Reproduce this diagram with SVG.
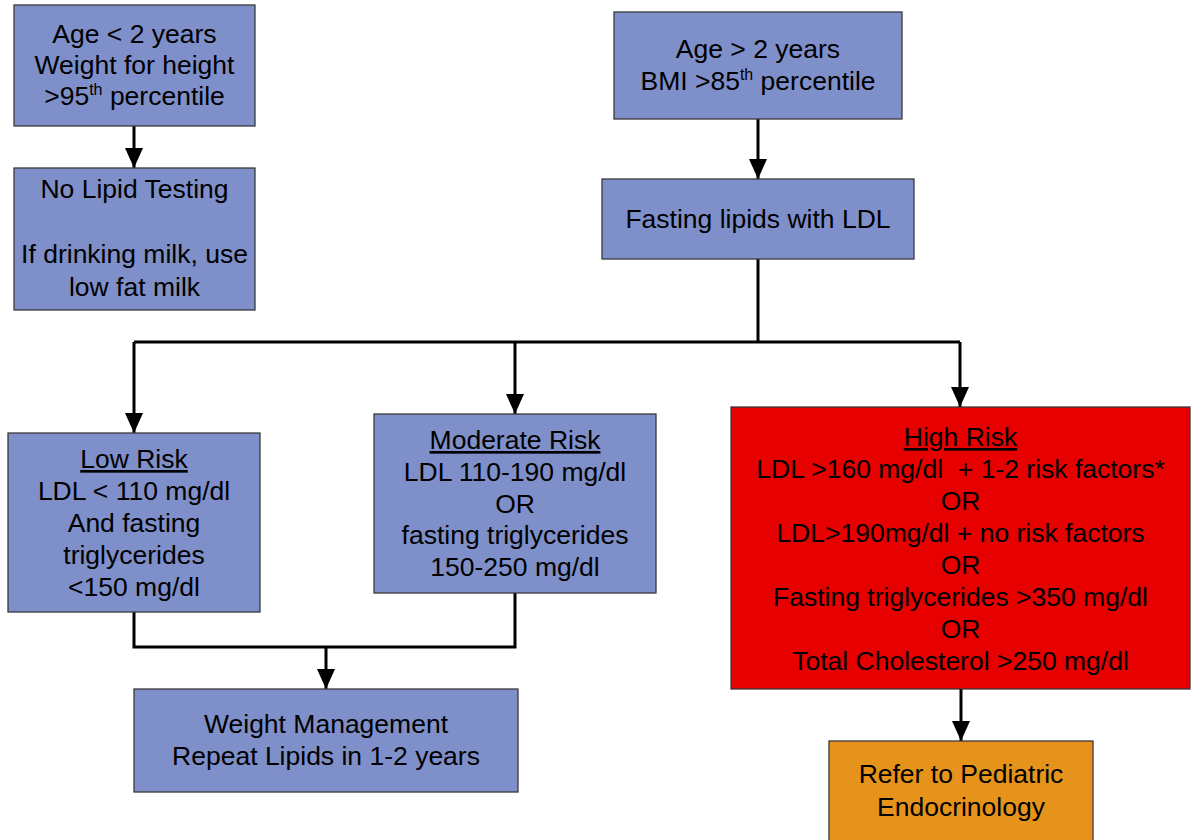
<svg xmlns="http://www.w3.org/2000/svg" width="1193" height="840" viewBox="0 0 1193 840">
<defs>
<marker id="ah" markerUnits="userSpaceOnUse" markerWidth="20" markerHeight="18" refX="20" refY="9" orient="auto">
<path d="M0,0 L20,9 L0,18 z" fill="#000"/>
</marker>
<style>
.blue{fill:#7F8FC9;stroke:#3a3a3a;stroke-width:1.3}
.red{fill:#E60000;stroke:#3a3a3a;stroke-width:1.3}
.orange{fill:#E6931B;stroke:#3a3a3a;stroke-width:1.3}
.t{font-family:"Liberation Sans",Arial,sans-serif;font-size:26.5px;fill:#000;text-anchor:middle}
.sup{font-size:16px}
.u{text-decoration:underline}
.c{fill:none;stroke:#000;stroke-width:3}
</style>
</defs>
<rect width="1193" height="840" fill="#fff"/>
<g id="connectors">
<path class="c" d="M134,126 V168" marker-end="url(#ah)"/>
<path class="c" d="M758,119 V179" marker-end="url(#ah)"/>
<path class="c" d="M758,259 V342 M134,342 H960"/>
<path class="c" d="M134,342 V433" marker-end="url(#ah)"/>
<path class="c" d="M515,342 V414" marker-end="url(#ah)"/>
<path class="c" d="M960,342 V407" marker-end="url(#ah)"/>
<path class="c" d="M134,612 V647 H515 V593"/>
<path class="c" d="M326,647 V689" marker-end="url(#ah)"/>
<path class="c" d="M961,689 V741" marker-end="url(#ah)"/>
</g>
<g id="age-under-2">
<rect class="blue" x="14" y="5" width="241" height="121"/>
<text class="t"><tspan x="134.5" y="43">Age &lt; 2 years</tspan><tspan x="134.5" y="74">Weight for height</tspan><tspan x="134.5" y="105">&gt;95<tspan class="sup" dy="-10">th</tspan><tspan dy="10"> percentile</tspan></tspan></text>
</g>
<g id="no-lipid">
<rect class="blue" x="14" y="168" width="241" height="142"/>
<text class="t"><tspan x="134.5" y="198">No Lipid Testing</tspan><tspan x="134.5" y="263">If drinking milk, use</tspan><tspan x="134.5" y="296">low fat milk</tspan></text>
</g>
<g id="age-over-2">
<rect class="blue" x="614" y="12" width="288" height="107"/>
<text class="t"><tspan x="758" y="58">Age &gt; 2 years</tspan><tspan x="758" y="90">BMI &gt;85<tspan class="sup" dy="-10">th</tspan><tspan dy="10"> percentile</tspan></tspan></text>
</g>
<g id="fasting">
<rect class="blue" x="602" y="179" width="312" height="80"/>
<text class="t"><tspan x="758" y="228">Fasting lipids with LDL</tspan></text>
</g>
<g id="low-risk">
<rect class="blue" x="8" y="433" width="252" height="179"/>
<text class="t"><tspan x="134" y="468" class="u">Low Risk</tspan><tspan x="134" y="500">LDL &lt; 110 mg/dl</tspan><tspan x="134" y="532">And fasting</tspan><tspan x="134" y="564">triglycerides</tspan><tspan x="134" y="596">&lt;150 mg/dl</tspan></text>
</g>
<g id="moderate-risk">
<rect class="blue" x="374" y="414" width="282" height="179"/>
<text class="t"><tspan x="515" y="449" class="u">Moderate Risk</tspan><tspan x="515" y="481">LDL 110-190 mg/dl</tspan><tspan x="515" y="513">OR</tspan><tspan x="515" y="544">fasting triglycerides</tspan><tspan x="515" y="576">150-250 mg/dl</tspan></text>
</g>
<g id="high-risk">
<rect class="red" x="731" y="407" width="459" height="282"/>
<text class="t"><tspan x="960.5" y="446" class="u">High Risk</tspan><tspan x="960.5" y="478">LDL &gt;160 mg/dl&#160; + 1-2 risk factors*</tspan><tspan x="960.5" y="510">OR</tspan><tspan x="960.5" y="542">LDL&gt;190mg/dl + no risk factors</tspan><tspan x="960.5" y="574">OR</tspan><tspan x="960.5" y="606">Fasting triglycerides &gt;350 mg/dl</tspan><tspan x="960.5" y="638">OR</tspan><tspan x="960.5" y="670">Total Cholesterol &gt;250 mg/dl</tspan></text>
</g>
<g id="weight-management">
<rect class="blue" x="134" y="689" width="384" height="103"/>
<text class="t"><tspan x="326" y="733">Weight Management</tspan><tspan x="326" y="765">Repeat Lipids in 1-2 years</tspan></text>
</g>
<g id="refer">
<rect class="orange" x="829" y="741" width="264" height="110"/>
<text class="t"><tspan x="961" y="783">Refer to Pediatric</tspan><tspan x="961" y="816">Endocrinology</tspan></text>
</g>
</svg>
